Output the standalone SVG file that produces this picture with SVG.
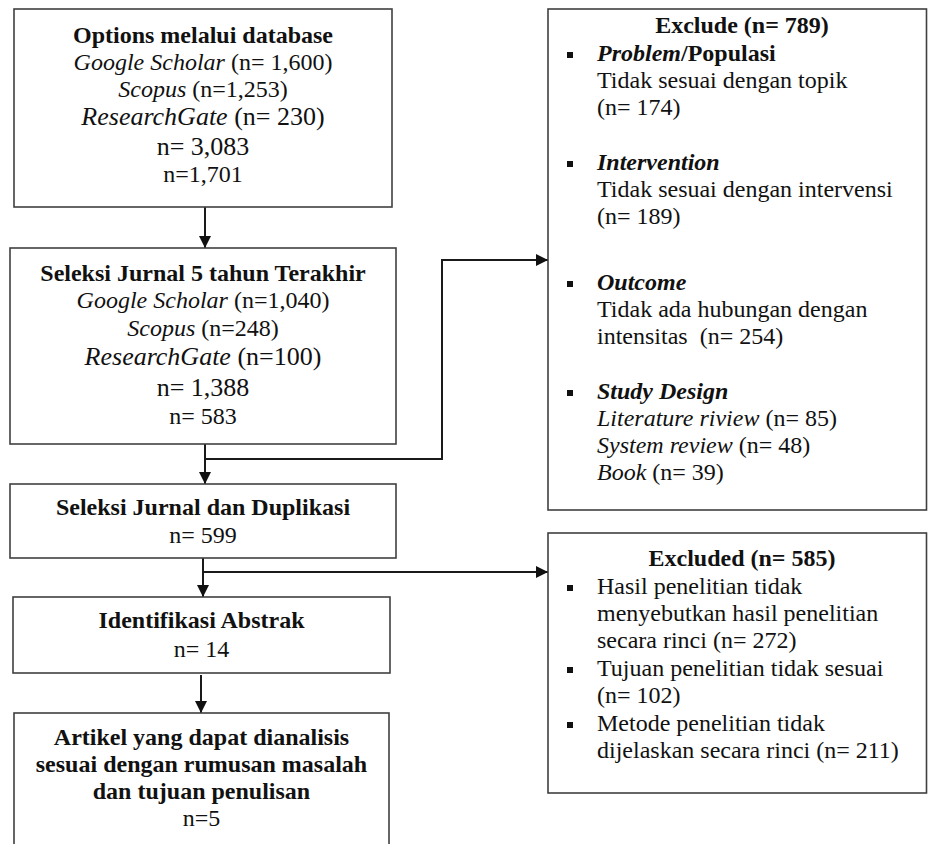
<svg xmlns="http://www.w3.org/2000/svg" width="928" height="844" viewBox="0 0 928 844">
<style>
.box{fill:#fff;stroke:#404040;stroke-width:1.6}
text{font-family:"Liberation Serif","Times New Roman",serif;font-size:24px;fill:#111}
.c{text-anchor:middle}
.b{font-weight:bold}
.i{font-style:italic}
.big{font-size:26px}
.con{fill:none;stroke:#1a1a1a;stroke-width:2}
.bul{fill:#111}
</style>
<defs>
<marker id="ah" viewBox="0 0 12 12" refX="12" refY="6" markerWidth="12" markerHeight="12" markerUnits="userSpaceOnUse" orient="auto">
<path d="M0,0 L12,6 L0,12 z" fill="#111"/>
</marker>
</defs>
<rect width="928" height="844" fill="#fff"/>

<g id="connectors">
<path class="con" d="M205,207 V248" marker-end="url(#ah)"/>
<path class="con" d="M205,444 V484" marker-end="url(#ah)"/>
<path class="con" d="M205,459 H442 V260 H548" marker-end="url(#ah)"/>
<path class="con" d="M203,558 V597" marker-end="url(#ah)"/>
<path class="con" d="M203,572 H548" marker-end="url(#ah)"/>
<path class="con" d="M201,675 V713" marker-end="url(#ah)"/>
</g>

<g id="node-options">
<rect class="box" x="14" y="9" width="378" height="198"/>
<text class="c b" x="203" y="43">Options melalui database</text>
<text class="c" x="203" y="70"><tspan class="i">Google Scholar</tspan> (n= 1,600)</text>
<text class="c" x="203" y="97"><tspan class="i">Scopus</tspan> (n=1,253)</text>
<text class="c big" x="203" y="125"><tspan class="i">ResearchGate</tspan> (n= 230)</text>
<text class="c big" x="203" y="155">n= 3,083</text>
<text class="c" x="203" y="182">n=1,701</text>
</g>

<g id="node-seleksi5">
<rect class="box" x="10" y="248" width="386" height="196"/>
<text class="c b" x="203" y="281">Seleksi Jurnal 5 tahun Terakhir</text>
<text class="c" x="203" y="308"><tspan class="i">Google Scholar</tspan> (n=1,040)</text>
<text class="c" x="203" y="336"><tspan class="i">Scopus</tspan> (n=248)</text>
<text class="c big" x="203" y="365"><tspan class="i">ResearchGate</tspan> (n=100)</text>
<text class="c big" x="203" y="396">n= 1,388</text>
<text class="c" x="203" y="424">n= 583</text>
</g>

<g id="node-duplikasi">
<rect class="box" x="10" y="484" width="386" height="74"/>
<text class="c b" x="203" y="515">Seleksi Jurnal dan Duplikasi</text>
<text class="c" x="203" y="543">n= 599</text>
</g>

<g id="node-abstrak">
<rect class="box" x="13" y="597" width="377" height="76"/>
<text class="c b" x="201.5" y="628">Identifikasi Abstrak</text>
<text class="c" x="201.5" y="657">n= 14</text>
</g>

<g id="node-artikel">
<rect class="box" x="14" y="713" width="375" height="150"/>
<text class="c b" x="201.5" y="745">Artikel yang dapat dianalisis</text>
<text class="c b" x="201.5" y="772">sesuai dengan rumusan masalah</text>
<text class="c b" x="201.5" y="799">dan tujuan penulisan</text>
<text class="c" x="201.5" y="826">n=5</text>
</g>

<g id="node-exclude">
<rect class="box" x="548" y="9" width="378.5" height="501"/>
<text class="c b" x="742" y="33">Exclude (n= 789)</text>
<rect class="bul" x="567" y="52" width="6" height="6"/>
<text x="597" y="61" class="b"><tspan class="i">Problem</tspan>/Populasi</text>
<text x="597" y="88">Tidak sesuai dengan topik</text>
<text x="597" y="115">(n= 174)</text>
<rect class="bul" x="567" y="161" width="6" height="6"/>
<text x="597" y="170" class="b i">Intervention</text>
<text x="597" y="197">Tidak sesuai dengan intervensi</text>
<text x="597" y="224">(n= 189)</text>
<rect class="bul" x="567" y="281" width="6" height="6"/>
<text x="597" y="290" class="b i">Outcome</text>
<text x="597" y="317">Tidak ada hubungan dengan</text>
<text x="597" y="344" xml:space="preserve">intensitas  (n= 254)</text>
<rect class="bul" x="567" y="390" width="6" height="6"/>
<text x="597" y="399" class="b i">Study Design</text>
<text x="597" y="426"><tspan class="i">Literature riview</tspan> (n= 85)</text>
<text x="597" y="453"><tspan class="i">System review</tspan> (n= 48)</text>
<text x="597" y="480"><tspan class="i">Book</tspan> (n= 39)</text>
</g>

<g id="node-excluded">
<rect class="box" x="548" y="533" width="378.5" height="260"/>
<text class="c b" x="742" y="566">Excluded (n= 585)</text>
<rect class="bul" x="567" y="585" width="6" height="6"/>
<text x="597" y="594">Hasil penelitian tidak</text>
<text x="597" y="621">menyebutkan hasil penelitian</text>
<text x="597" y="648">secara rinci (n= 272)</text>
<rect class="bul" x="567" y="667" width="6" height="6"/>
<text x="597" y="676">Tujuan penelitian tidak sesuai</text>
<text x="597" y="703">(n= 102)</text>
<rect class="bul" x="567" y="722" width="6" height="6"/>
<text x="597" y="731">Metode penelitian tidak</text>
<text x="597" y="758">dijelaskan secara rinci (n= 211)</text>
</g>
</svg>
